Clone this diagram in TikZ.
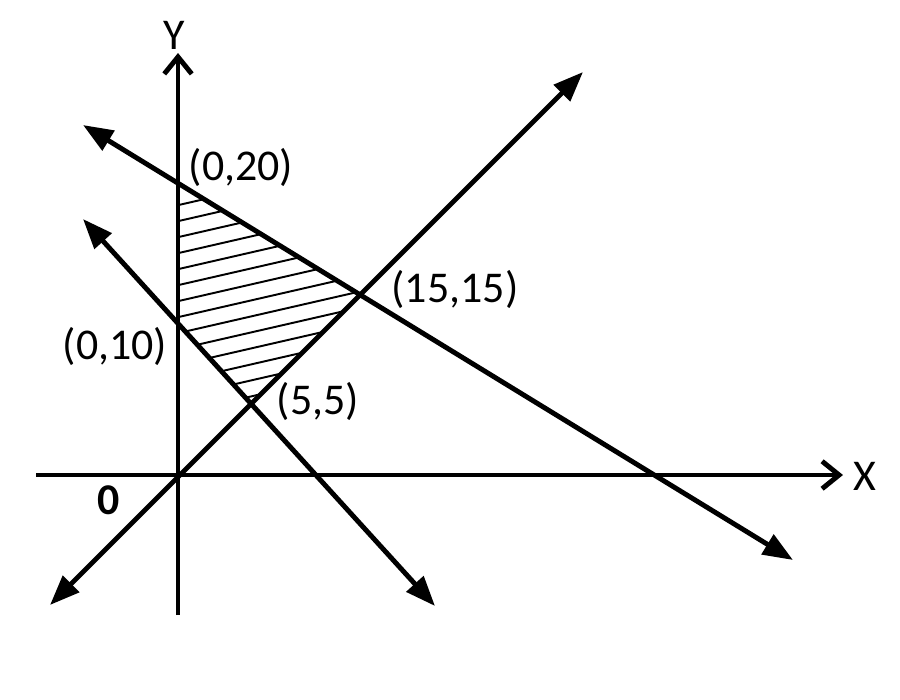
\documentclass[tikz,border=0pt]{standalone}
\usepackage{fontspec}
\setmainfont{Carlito}
\usetikzlibrary{arrows.meta}

\begin{document}
\begin{tikzpicture}[x=0.02cm, y=-0.02cm, line width=2.8pt,
	axis/.style={-{Straight Barb[length=0.34cm,width=0.55cm]}},
	ray/.style={{Triangle[length=0.6cm,width=0.45cm]}-{Triangle[length=0.6cm,width=0.45cm]}},
	hatch/.style={line width=1.1pt},
	every node/.style={inner sep=0pt, font=\fontsize{25}{29}\selectfont}]
	\useasboundingbox (0,0) rectangle (900,700);
	% corners of the shaded region
	\coordinate (o) at (178,475);
	\coordinate (p20) at (178,183);
	\coordinate (p15) at (359,294);
	\coordinate (p5) at (250,403);
	\coordinate (p10) at (178,323);
	% ends of the axes and of the three lines
	\coordinate (xl) at (36,475);
	\coordinate (xr) at (843,475);
	\coordinate (yb) at (178,615);
	\coordinate (yt) at (178,53);
	\coordinate (a1) at (83,125);
	\coordinate (a2) at (793,560);
	\coordinate (b1) at (83,219);
	\coordinate (b2) at (435,606);
	\coordinate (c1) at (50,605);
	\coordinate (c2) at (583,72);
	% hatching
	\begin{scope}
		\clip (p20) -- (p15) -- (p5) -- (p10) -- cycle;
		\foreach \k in {0,...,13}
			\draw [hatch] (170,{207+16*\k}) -- ++(240,-55);
	\end{scope}
	% axes
	\draw [axis] (xl) -- (xr);
	\draw [axis] (yb) -- (yt);
	\node (xlab) at (865,476) {X};
	\node (ylab) at (174,35) {Y};
	\node (olab) at (109,500) {\textbf{0}};
	% lines
	\draw [ray] (a1) -- (a2);
	\draw [ray] (b1) -- (b2);
	\draw [ray] (c1) -- (c2);
	% labels
	\node (l20) at (241,167) {(0,20)};
	\node (l15) at (455,289) {(15,15)};
	\node (l10) at (115,346) {(0,10)};
	\node (l5) at (318,401) {(5,5)};
\end{tikzpicture}
\end{document}
